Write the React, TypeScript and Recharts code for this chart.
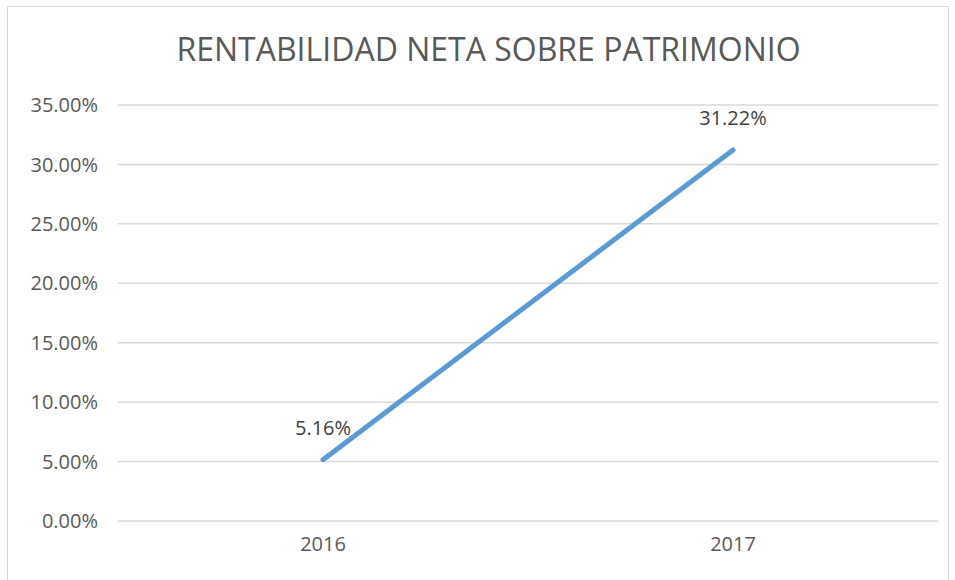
import { LineChart, Line, XAxis, YAxis, CartesianGrid, LabelList } from 'recharts';

const years = ['2016', '2017'];
const rentabilidad = [0.0516, 0.3122];
const yTicks = [0, 0.05, 0.1, 0.15, 0.2, 0.25, 0.3, 0.35];

const data = years.map((year, i) => ({ year, value: rentabilidad[i] }));

const pct = (v: number) => `${(v * 100).toFixed(2)}%`;

const font = '"Open Sans", "Liberation Sans", sans-serif';

export default function App() {
  return (
    <div style={{ position: 'absolute', left: 0, top: 0, width: 955, height: 580, background: '#fff', overflow: 'hidden', fontFamily: font }}>
      <div style={{ position: 'absolute', left: 7, top: 6, width: 942, height: 600, border: '1.5px solid #d9d9d9', boxSizing: 'border-box' }} />
      <div style={{ position: 'absolute', left: 0, top: 27, width: 977, textAlign: 'center', fontSize: 32, color: '#595959', lineHeight: '44px' }}>
        RENTABILIDAD NETA SOBRE PATRIMONIO
      </div>
      <div style={{ position: 'absolute', left: 0, top: 0 }}>
        <LineChart width={955} height={580} data={data} margin={{ top: 105, right: 17, bottom: 29, left: 0 }}>
          <CartesianGrid vertical={false} stroke="#d9d9d9" strokeWidth={1.5} />
          <XAxis
            dataKey="year"
            axisLine={false}
            tickLine={false}
            tickSize={0}
            tickMargin={16}
            height={30}
            padding={{ left: 205, right: 205 }}
            tick={{ fontSize: 20, fill: '#595959', fontFamily: font }}
          />
          <YAxis
            width={118}
            domain={[0, 0.35]}
            ticks={yTicks}
            tickFormatter={pct}
            axisLine={false}
            tickLine={false}
            tickSize={0}
            tickMargin={20}
            tick={{ fontSize: 20, fill: '#595959', fontFamily: font }}
          />
          <Line
            dataKey="value"
            stroke="#5b9bd5"
            strokeWidth={5}
            strokeLinecap="round"
            dot={false}
            isAnimationActive={false}
          >
            <LabelList
              dataKey="value"
              position="top"
              offset={25}
              formatter={(v: number) => pct(v)}
              style={{ fontSize: 20, fill: '#404040', fontFamily: font }}
            />
          </Line>
        </LineChart>
      </div>
    </div>
  );
}
